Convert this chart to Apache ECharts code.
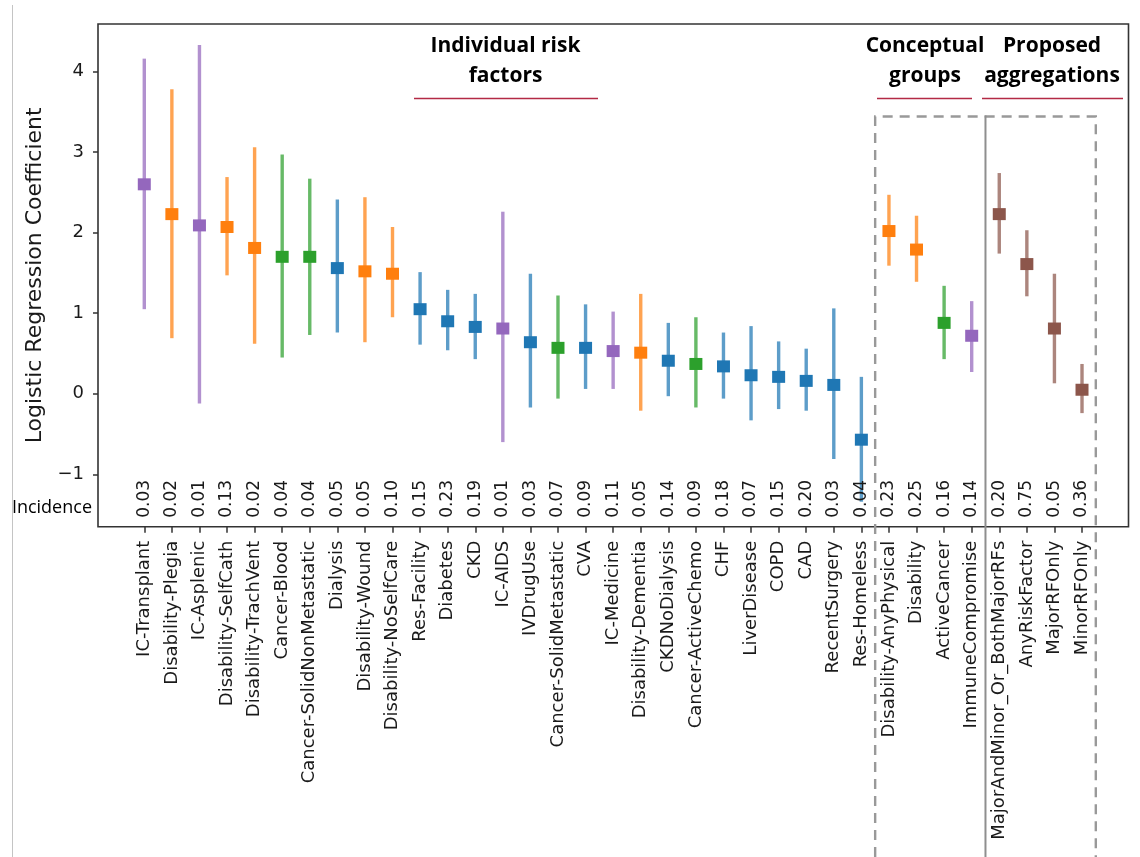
<!DOCTYPE html>
<html>
<head>
<meta charset="utf-8">
<title>Logistic regression coefficients by risk factor</title>
<script src="https://cdn.jsdelivr.net/npm/echarts@6/dist/echarts.min.js"></script>
<style>
  html, body { margin: 0; padding: 0; background: #ffffff; }
  #chart { width: 1140px; height: 857px; }
</style>
</head>
<body>
<div id="chart"></div>
<script>
// ---- data ----
const individualFactors = [
  'IC-Transplant', 'Disability-Plegia', 'IC-Asplenic', 'Disability-SelfCath',
  'Disability-TrachVent', 'Cancer-Blood', 'Cancer-SolidNonMetastatic', 'Dialysis',
  'Disability-Wound', 'Disability-NoSelfCare', 'Res-Facility', 'Diabetes', 'CKD',
  'IC-AIDS', 'IVDrugUse', 'Cancer-SolidMetastatic', 'CVA', 'IC-Medicine',
  'Disability-Dementia', 'CKDNoDialysis', 'Cancer-ActiveChemo', 'CHF',
  'LiverDisease', 'COPD', 'CAD', 'RecentSurgery', 'Res-Homeless'
];
const conceptualGroups = ['Disability-AnyPhysical', 'Disability', 'ActiveCancer', 'ImmuneCompromise'];
const proposedAggregations = ['MajorAndMinor_Or_BothMajorRFs', 'AnyRiskFactor', 'MajorRFOnly', 'MinorRFOnly'];

const coef = [
  2.60, 2.23, 2.09, 2.07, 1.81, 1.70, 1.70, 1.56, 1.52, 1.49,
  1.05, 0.90, 0.83, 0.81, 0.64, 0.57, 0.57, 0.53, 0.51, 0.41,
  0.37, 0.34, 0.23, 0.21, 0.16, 0.11, -0.57,
  2.02, 1.79, 0.88, 0.72,
  2.23, 1.61, 0.81, 0.05
];
const ciLow = [
  1.05, 0.69, -0.12, 1.47, 0.62, 0.45, 0.73, 0.76, 0.64, 0.95,
  0.61, 0.54, 0.43, -0.60, -0.17, -0.06, 0.06, 0.06, -0.21, -0.03,
  -0.17, -0.06, -0.33, -0.19, -0.21, -0.81, -1.34,
  1.59, 1.39, 0.43, 0.27,
  1.74, 1.21, 0.13, -0.24
];
const ciHigh = [
  4.16, 3.78, 4.33, 2.69, 3.06, 2.97, 2.67, 2.41, 2.44, 2.07,
  1.51, 1.29, 1.24, 2.26, 1.49, 1.22, 1.11, 1.02, 1.24, 0.88,
  0.95, 0.76, 0.84, 0.65, 0.56, 1.06, 0.21,
  2.47, 2.21, 1.34, 1.15,
  2.74, 2.03, 1.49, 0.37
];
const incidence = [
  '0.03', '0.02', '0.01', '0.13', '0.02', '0.04', '0.04', '0.05', '0.05', '0.10',
  '0.15', '0.23', '0.19', '0.01', '0.03', '0.07', '0.09', '0.11', '0.05', '0.14',
  '0.09', '0.18', '0.07', '0.15', '0.20', '0.03', '0.04',
  '0.23', '0.25', '0.16', '0.14',
  '0.20', '0.75', '0.05', '0.36'
];
// risk-factor family of each entry
const family = [
  'ic', 'disability', 'ic', 'disability', 'disability', 'cancer', 'cancer', 'other',
  'disability', 'disability', 'other', 'other', 'other', 'ic', 'other', 'cancer',
  'other', 'ic', 'disability', 'other', 'cancer', 'other', 'other', 'other', 'other',
  'other', 'other',
  'disability', 'disability', 'cancer', 'ic',
  'aggregate', 'aggregate', 'aggregate', 'aggregate'
];
const yTicks = [-1, 0, 1, 2, 3, 4];

// ---- styling ----
const familyColor = {
  other: '#1f77b4', disability: '#ff7f0e', cancer: '#2ca02c', ic: '#9467bd', aggregate: '#8c564b'
};
const factors = individualFactors.concat(conceptualGroups, proposedAggregations);
const Y_MIN = -1.65, Y_MAX = 4.59;
const TICK_FONT = 'DejaVu Sans';
const TEXT_COLOR = '#1a1a1a';
const SPINE = '#333333';

const chart = echarts.init(document.getElementById('chart'), null, { renderer: 'canvas' });

const option = {
  backgroundColor: '#ffffff',
  animation: false,
  grid: [
    // frame + y axis
    { left: 98, right: 11.5, top: 24, bottom: 330.3, show: true,
      borderColor: SPINE, borderWidth: 1.6, backgroundColor: 'transparent' },
    // category band area
    { left: 130.5, right: 44.2, top: 24, bottom: 330.3 }
  ],
  xAxis: [
    { gridIndex: 0, type: 'value', min: 0, max: 1, show: false },
    {
      gridIndex: 1, type: 'category', data: factors, boundaryGap: true,
      position: 'bottom',
      axisLine: { show: false, onZero: false },
      axisTick: { show: true, alignWithLabel: true, interval: 0, length: 6,
        lineStyle: { color: SPINE, width: 1.5 } },
      axisLabel: { interval: 0, rotate: 90, margin: 14, fontSize: 18,
        fontFamily: TICK_FONT, color: TEXT_COLOR },
      splitLine: { show: false }
    }
  ],
  yAxis: [
    {
      gridIndex: 0, type: 'value', min: Y_MIN, max: Y_MAX,
      name: 'Logistic Regression Coefficient', nameLocation: 'middle', nameGap: 49,
      nameTextStyle: { fontSize: 22, fontFamily: TICK_FONT, color: TEXT_COLOR },
      axisLine: { show: false },
      axisTick: { show: true, length: 5, customValues: yTicks,
        lineStyle: { color: SPINE, width: 1.5 } },
      axisLabel: { customValues: yTicks, margin: 14, fontSize: 18,
        fontFamily: TICK_FONT, color: TEXT_COLOR,
        formatter: v => (v < 0 ? '\u2212' + Math.abs(v) : String(v)) },
      splitLine: { show: false }
    },
    { gridIndex: 1, type: 'value', min: Y_MIN, max: Y_MAX, show: false }
  ],
  series: [
    {
      // 95% interval whiskers
      type: 'custom', name: 'interval', xAxisIndex: 1, yAxisIndex: 1,
      data: factors.map((f, i) => [i, ciLow[i], ciHigh[i]]),
      renderItem: (params, api) => {
        const i = api.value(0);
        const lo = api.coord([i, api.value(1)]);
        const hi = api.coord([i, api.value(2)]);
        return {
          type: 'line',
          shape: { x1: lo[0], y1: lo[1], x2: hi[0], y2: hi[1] },
          style: { stroke: familyColor[family[i]], lineWidth: 3.4, opacity: 0.72 }
        };
      },
      z: 2
    },
    {
      type: 'scatter', name: 'coefficient', xAxisIndex: 1, yAxisIndex: 1,
      symbol: 'rect', symbolSize: [13, 12],
      data: factors.map((f, i) => [i, coef[i]]),
      itemStyle: { color: p => familyColor[family[p.dataIndex]], opacity: 1 },
      z: 3
    },
    {
      // incidence values along the bottom of the plot
      type: 'custom', name: 'incidence', xAxisIndex: 1, yAxisIndex: 1,
      data: incidence.map((v, i) => [i, Number(v)]),
      renderItem: (params, api) => {
        const i = api.value(0);
        const p = api.coord([i, Y_MIN]);
        return {
          type: 'text', x: p[0], y: p[1] - 9, rotation: Math.PI / 2,
          style: { text: incidence[i], fontSize: 17, fontFamily: TICK_FONT,
            fill: TEXT_COLOR, align: 'left', verticalAlign: 'middle' }
        };
      },
      z: 4
    }
  ]
};

chart.setOption(option);

// ---- annotations: section headers and group boxes ----
const xAt = i => chart.convertToPixel({ xAxisIndex: 1 }, i);
const band = xAt(1) - xAt(0);
const nInd = individualFactors.length;
const nCon = conceptualGroups.length;
const nAgg = proposedAggregations.length;
const boxLeft = xAt(nInd) - band / 2;
const boxMid = xAt(nInd + nCon) - band / 2;
const boxRight = xAt(nInd + nCon + nAgg - 1) + band / 2;
const BOX_TOP = 116.5, PAGE_BOTTOM = 857;
const HEADER_FONT = { fontSize: 21, fontWeight: 'bold', fontFamily: 'Open Sans', fill: '#000',
  align: 'center', verticalAlign: 'middle' };
const UNDERLINE = { stroke: '#b32a45', lineWidth: 1.3 };

function header(cx, lines) {
  return lines.map((t, k) => ({
    type: 'text', x: cx, y: 46 + k * 30,
    style: Object.assign({ text: t }, HEADER_FONT), z: 10
  }));
}

chart.setOption({
  graphic: [
    { type: 'line', shape: { x1: 12.5, y1: 5, x2: 12.5, y2: PAGE_BOTTOM },
      style: { stroke: '#c4c4c4', lineWidth: 1 }, silent: true },
    ...header(505.5, ['Individual risk', 'factors']),
    ...header(925, ['Conceptual', 'groups']),
    ...header(1052, ['Proposed', 'aggregations']),
    { type: 'line', shape: { x1: 414, y1: 98.5, x2: 598, y2: 98.5 }, style: UNDERLINE },
    { type: 'line', shape: { x1: 877, y1: 98.5, x2: 972, y2: 98.5 }, style: UNDERLINE },
    { type: 'line', shape: { x1: 982, y1: 98.5, x2: 1123, y2: 98.5 }, style: UNDERLINE },
    {
      type: 'polyline', silent: true, z: 8,
      shape: { points: [[boxLeft, PAGE_BOTTOM], [boxLeft, BOX_TOP], [boxRight, BOX_TOP], [boxRight, PAGE_BOTTOM]] },
      style: { stroke: '#999999', lineWidth: 2.4, lineDash: [10, 7], fill: null }
    },
    { type: 'line', silent: true, z: 8,
      shape: { x1: boxMid, y1: BOX_TOP - 1, x2: boxMid, y2: PAGE_BOTTOM },
      style: { stroke: '#8f8f8f', lineWidth: 2 } },
    { type: 'text', x: 92, y: 508, z: 10,
      style: { text: 'Incidence', fontSize: 18, fontFamily: 'Open Sans', fill: '#000',
        align: 'right', verticalAlign: 'middle' } }
  ]
});
</script>
</body>
</html>
